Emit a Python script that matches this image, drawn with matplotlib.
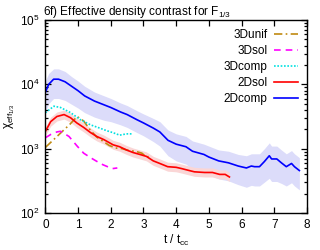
import numpy as np
import matplotlib
matplotlib.use("Agg")
import matplotlib.pyplot as plt
from matplotlib.ticker import LogLocator, NullFormatter, FixedLocator

plt.rcParams['font.family'] = ['Liberation Sans', 'DejaVu Sans']
plt.rcParams['mathtext.fontset'] = 'custom'
plt.rcParams['mathtext.rm'] = 'Liberation Sans'
plt.rcParams['mathtext.it'] = 'Liberation Sans'

# values are log10(chi)
t_unif = [0.0, 0.25, 0.5, 0.75, 0.97, 1.17, 1.37, 1.57, 1.75, 1.95, 2.15, 2.35, 2.55, 2.75, 2.95, 3.09, 3.19]
lg_unif = [3.02, 3.14, 3.26, 3.38, 3.50, 3.43, 3.29, 3.18, 3.12, 3.05, 3.01, 3.00, 2.97, 2.96, 2.93, 2.87, 2.88]

t_3dsol = [0.0, 0.16, 0.35, 0.46, 0.56, 0.72, 0.97, 1.17, 1.38, 1.58, 1.76, 1.9, 2.05, 2.2]
lg_3dsol = [3.17, 3.22, 3.26, 3.27, 3.24, 3.19, 3.04, 2.93, 2.86, 2.80, 2.75, 2.72, 2.69, 2.70]

t_3dcomp = [0.0, 0.26, 0.46, 0.77, 1.07, 1.38, 1.66, 1.87, 2.06, 2.27, 2.48, 2.67]
lg_3dcomp = [3.56, 3.66, 3.64, 3.56, 3.45, 3.37, 3.32, 3.28, 3.25, 3.21, 3.23, 3.23]

t_2dsol = [0.0, 0.16, 0.35, 0.57, 0.77, 0.96, 1.17, 1.38, 1.57, 1.79, 2.07, 2.27, 2.48, 2.68,
           2.89, 3.09, 3.3, 3.5, 3.74, 4.0, 4.17, 4.4, 4.56, 4.87, 5.11, 5.33, 5.5, 5.63]
lg_2dsol = [3.27, 3.42, 3.50, 3.53, 3.48, 3.40, 3.33, 3.25, 3.19, 3.14, 3.06, 3.03, 2.98, 2.94,
            2.91, 2.88, 2.81, 2.77, 2.72, 2.71, 2.69, 2.66, 2.64, 2.63, 2.63, 2.60, 2.60, 2.56]
sp_2dsol = [0.07] * len(t_2dsol)

t_2dcomp = [0.0, 0.1, 0.25, 0.4, 0.6, 0.8, 1.0, 1.2, 1.5, 1.8, 2.0, 2.3, 2.5, 2.8, 3.0, 3.3, 3.5,
            3.75, 4.0, 4.3, 4.5, 4.85, 5.0, 5.3, 5.6, 5.9, 6.15, 6.3, 6.4, 6.55, 6.7, 6.85, 6.92,
            7.08, 7.22, 7.37, 7.53, 7.62, 7.77]
lg_2dcomp = [3.88, 4.00, 4.08, 4.08, 4.04, 3.97, 3.90, 3.82, 3.74, 3.68, 3.64, 3.57, 3.53, 3.45,
             3.40, 3.32, 3.26, 3.13, 3.07, 3.03, 2.96, 2.91, 2.87, 2.81, 2.78, 2.73, 2.70, 2.73,
             2.72, 2.72, 2.80, 2.89, 2.84, 2.84, 2.78, 2.72, 2.77, 2.72, 2.66]
up_2dcomp = [0.18, 0.17, 0.16, 0.16, 0.16, 0.15, 0.15, 0.15, 0.14, 0.14, 0.14, 0.14, 0.14, 0.14,
             0.14, 0.15, 0.16, 0.16, 0.16, 0.16, 0.16, 0.16, 0.17, 0.17, 0.18, 0.18, 0.19, 0.19,
             0.20, 0.20, 0.20, 0.20, 0.20, 0.20, 0.20, 0.20, 0.20, 0.20, 0.20]
dn_2dcomp = [0.30, 0.30, 0.30, 0.30, 0.29, 0.28, 0.27, 0.26, 0.25, 0.24, 0.22, 0.20, 0.20, 0.20,
             0.20, 0.21, 0.22, 0.24, 0.26, 0.27, 0.28, 0.28, 0.28, 0.28, 0.28, 0.29, 0.30, 0.30,
             0.30, 0.30, 0.32, 0.35, 0.35, 0.35, 0.32, 0.30, 0.30, 0.30, 0.30]

fig = plt.figure(figsize=(3.2, 2.5), dpi=100)
ax = fig.add_axes([0.142, 0.148, 0.817, 0.772])

lg = np.array(lg_2dcomp)
ax.fill_between(t_2dcomp, 10 ** (lg - np.array(dn_2dcomp)), 10 ** (lg + np.array(up_2dcomp)),
                color='#dcdcfa', lw=0)
lg = np.array(lg_2dsol)
ax.fill_between(t_2dsol, 10 ** (lg - np.array(sp_2dsol)), 10 ** (lg + np.array(sp_2dsol)),
                color='#fad6d6', lw=0)

ax.plot(t_unif, 10 ** np.array(lg_unif), color='#c08a10', lw=1.2, ls=(0, (5, 2, 1, 2)), label='3Dunif')
ax.plot(t_3dsol, 10 ** np.array(lg_3dsol), color='#ff00ff', lw=1.2, ls=(0, (4, 3)), label='3Dsol')
ax.plot(t_3dcomp, 10 ** np.array(lg_3dcomp), color='#00e0e0', lw=1.2, ls=(0, (1, 1)), label='3Dcomp')
ax.plot(t_2dsol, 10 ** np.array(lg_2dsol), color='#ff0000', lw=1.2, label='2Dsol')
ax.plot(t_2dcomp, 10 ** np.array(lg_2dcomp), color='#0000ff', lw=1.2, label='2Dcomp')

ax.set_yscale('log')
ax.set_xlim(0, 8)
ax.set_ylim(1e2, 1e5)
ax.xaxis.set_major_locator(FixedLocator(range(9)))
ax.yaxis.set_major_locator(LogLocator(base=10, numticks=10))
ax.yaxis.set_minor_locator(LogLocator(base=10, subs=np.arange(2, 10), numticks=10))
ax.yaxis.set_minor_formatter(NullFormatter())
ax.tick_params(which='both', direction='in', top=True, right=True, labelsize=8.5, width=0.9)
ax.tick_params(which='major', length=4, pad=4)
ax.tick_params(which='minor', length=2.5)
for s in ax.spines.values():
    s.set_linewidth(1.0)

ax.set_xlabel(r'$\mathrm{t\ /\ t_{cc}}$', fontsize=8.5, labelpad=2)
ax.set_ylabel(r'$\chi_{\mathrm{eff}_{1/3}}$', fontsize=8.5, labelpad=2)
ax.set_title(r'6f) Effective density contrast for F$_{1/3}$', fontsize=8.5, loc='left', pad=3, x=-0.01)

ax.legend(loc='upper right', frameon=False, fontsize=8.5, markerfirst=False, borderpad=0,
          borderaxespad=0.75, labelspacing=0.35, handlelength=2.0, handletextpad=0.6)

fig.savefig('out.png', dpi=100)
